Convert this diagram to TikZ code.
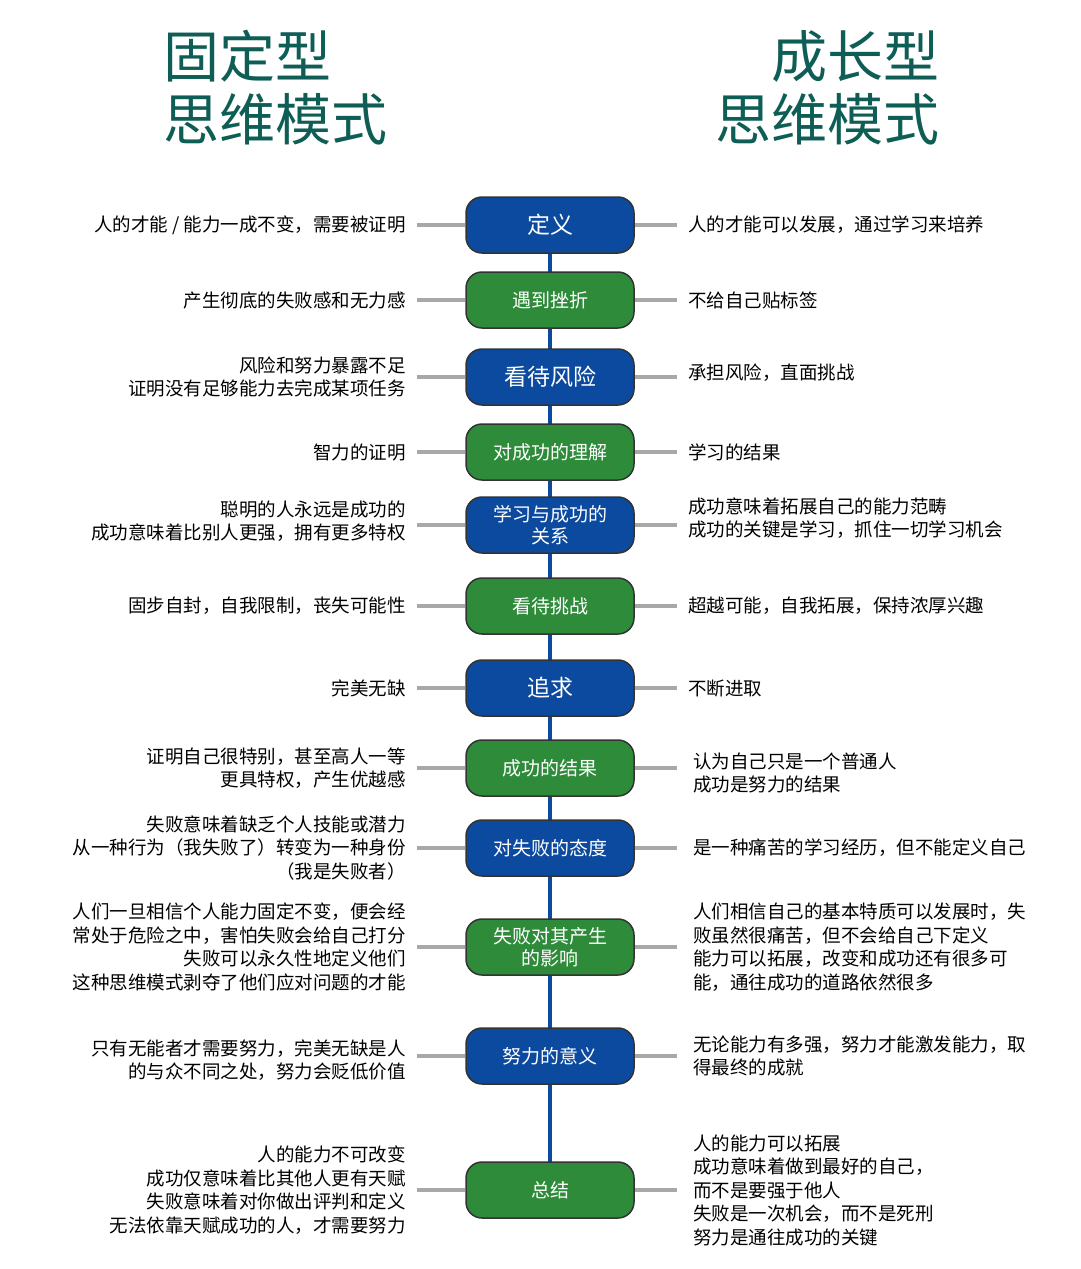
\documentclass[tikz,border=0pt]{standalone}
\usepackage{fontspec}
\setmainfont{Noto Sans CJK SC}
\usetikzlibrary{positioning}
\definecolor{boxblue}{HTML}{0B4A9E}
\definecolor{boxgreen}{HTML}{2E8B3A}
\definecolor{titlegreen}{HTML}{0E5E55}
\definecolor{linegray}{HTML}{A8A8A8}
\tikzset{
  stage/.style={draw=black!80, line width=1.5pt, rounded corners=16pt,
    minimum width=168pt, minimum height=56pt, text=white, align=center,
    font=\fontsize{19}{22}\selectfont},
  bluestage/.style={stage, fill=boxblue},
  greenstage/.style={stage, fill=boxgreen},
  bigblue/.style={bluestage, font=\fontsize{23}{26}\selectfont},
  lefttext/.style={align=right, anchor=east, font=\fontsize{18.5}{23.5}\selectfont},
  righttext/.style={align=left, anchor=west, font=\fontsize{18.5}{23.5}\selectfont},
  arm/.style={linegray, line width=4pt},
  title/.style={text=titlegreen, font=\fontsize{56}{63}\selectfont, inner sep=0pt}
}
\begin{document}
\begin{tikzpicture}[x=1pt,y=-1pt]
  \useasboundingbox[fill=white] (0,0) rectangle (1080,1269);

  % titles
  \node[title, anchor=north west, align=left] (tl) at (163,30) {固定型\\思维模式};
  \node[title, anchor=north east, align=right] (tr) at (940,30) {成长型\\思维模式};

  % spine
  \draw[boxblue, line width=4pt] (550,225) -- (550,1190);

  % stages
  \foreach \name/\y/\sty/\txt in {
      s1/225/bigblue/定义,
      s2/300/greenstage/遇到挫折,
      s3/377/bigblue/看待风险,
      s4/452/greenstage/对成功的理解,
      s5/525/bluestage/{学习与成功的\\关系},
      s6/606/greenstage/看待挑战,
      s7/688/bigblue/追求,
      s8/768/greenstage/成功的结果,
      s9/848/bluestage/对失败的态度,
      s10/947/greenstage/{失败对其产生\\的影响},
      s11/1056/bluestage/努力的意义,
      s12/1190/greenstage/总结}{
    \node[\sty] (\name) at (550,\y) {\txt};
    \draw[arm] (\name.west) -- ++(-48,0) coordinate (\name l);
    \draw[arm] (\name.east) -- ++(42,0) coordinate (\name r);
  }

  % fixed mindset
  \node[lefttext] (l1) at ([xshift=-8pt]s1l) {人的才能 / 能力一成不变，需要被证明};
  \node[lefttext] (l2) at ([xshift=-8pt]s2l) {产生彻底的失败感和无力感};
  \node[lefttext] (l3) at ([xshift=-8pt]s3l) {风险和努力暴露不足\\证明没有足够能力去完成某项任务};
  \node[lefttext] (l4) at ([xshift=-8pt]s4l) {智力的证明};
  \node[lefttext] (l5) at ([xshift=-8pt,yshift=4pt]s5l) {聪明的人永远是成功的\\成功意味着比别人更强，拥有更多特权};
  \node[lefttext] (l6) at ([xshift=-8pt]s6l) {固步自封，自我限制，丧失可能性};
  \node[lefttext] (l7) at ([xshift=-8pt]s7l) {完美无缺};
  \node[lefttext] (l8) at ([xshift=-8pt]s8l) {证明自己很特别，甚至高人一等\\更具特权，产生优越感};
  \node[lefttext] (l9) at ([xshift=-8pt]s9l) {失败意味着缺乏个人技能或潜力\\从一种行为（我失败了）转变为一种身份\\（我是失败者）};
  \node[lefttext] (l10) at ([xshift=-8pt]s10l) {人们一旦相信个人能力固定不变，便会经\\常处于危险之中，害怕失败会给自己打分\\失败可以永久性地定义他们\\这种思维模式剥夺了他们应对问题的才能};
  \node[lefttext] (l11) at ([xshift=-8pt,yshift=-4pt]s11l) {只有无能者才需要努力，完美无缺是人\\的与众不同之处，努力会贬低价值};
  \node[lefttext] (l12) at ([xshift=-8pt]s12l) {人的能力不可改变\\成功仅意味着比其他人更有天赋\\失败意味着对你做出评判和定义\\无法依靠天赋成功的人，才需要努力};

  % growth mindset
  \node[righttext] (r1) at ([xshift=8pt]s1r) {人的才能可以发展，通过学习来培养};
  \node[righttext] (r2) at ([xshift=8pt]s2r) {不给自己贴标签};
  \node[righttext] (r3) at ([xshift=8pt,yshift=4pt]s3r) {承担风险，直面挑战};
  \node[righttext] (r4) at ([xshift=8pt]s4r) {学习的结果};
  \node[righttext] (r5) at ([xshift=8pt,yshift=7pt]s5r) {成功意味着拓展自己的能力范畴\\成功的关键是学习，抓住一切学习机会};
  \node[righttext] (r6) at ([xshift=8pt]s6r) {超越可能，自我拓展，保持浓厚兴趣};
  \node[righttext] (r7) at ([xshift=8pt]s7r) {不断进取};
  \node[righttext] (r8) at ([xshift=13pt,yshift=-5pt]s8r) {认为自己只是一个普通人\\成功是努力的结果};
  \node[righttext] (r9) at ([xshift=13pt]s9r) {是一种痛苦的学习经历，但不能定义自己};
  \node[righttext] (r10) at ([xshift=13pt]s10r) {人们相信自己的基本特质可以发展时，失\\败虽然很痛苦，但不会给自己下定义\\能力可以拓展，改变和成功还有很多可\\能，通往成功的道路依然很多};
  \node[righttext] (r11) at ([xshift=13pt]s11r) {无论能力有多强，努力才能激发能力，取\\得最终的成就};
  \node[righttext] (r12) at ([xshift=13pt]s12r) {人的能力可以拓展\\成功意味着做到最好的自己，\\而不是要强于他人\\失败是一次机会，而不是死刑\\努力是通往成功的关键};
\end{tikzpicture}
\end{document}
